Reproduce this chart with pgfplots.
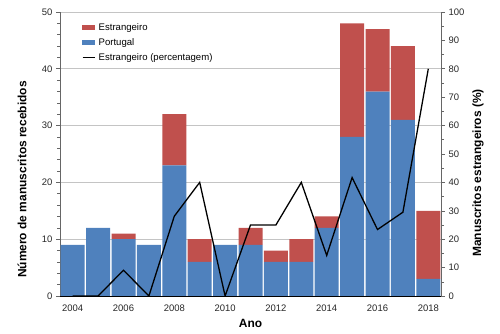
\documentclass[border=0pt]{standalone}
\usepackage{pgfplots}
\pgfplotsset{compat=1.18}
\usepackage{fontspec}
\setmainfont{Liberation Sans}
\definecolor{port}{HTML}{4F81BD}
\definecolor{estr}{HTML}{C0504D}
\definecolor{gridc}{HTML}{C4C4C4}
\begin{document}
\begin{tikzpicture}
\path[use as bounding box] (-60bp,-38bp) rectangle (440bp,296bp);
\begin{axis}[
  at={(0,0)}, anchor=south west, scale only axis,
  width=381bp, height=284bp,
  xmin=2003.5, xmax=2018.5, ymin=0, ymax=50,
  ybar stacked, bar width=24bp,
  axis y line*=left, axis x line*=bottom,
  x axis line style={black, line width=0.8pt},
  y axis line style={black!60, line width=0.8pt},
  xtick={2004,2006,...,2018},
  ytick={0,10,...,50}, minor y tick num=4,
  xtick style={draw=none},
  ytick style={black!60, line width=0.6pt},
  tick align=outside, major tick length=4bp, minor tick length=3bp,
  ymajorgrids, major grid style={gridc, line width=0.9pt},
  /pgf/number format/assume math mode=true,
  /pgf/number format/1000 sep={},
  tick label style={font=\fontsize{9.5}{11}\selectfont, black!85},
  xticklabel style={yshift=-1bp},
  xlabel={Ano}, ylabel={Número de manuscritos recebidos},
  label style={font=\fontsize{12}{14}\selectfont\bfseries},
  xlabel style={at={(axis description cs:0.5,-0.095)}, anchor=center},
  ylabel style={at={(axis description cs:-0.0997,0.41)}, anchor=center},
  legend style={at={(axis description cs:0.057,0.968)}, anchor=north west,
    draw=none, fill=none, font=\fontsize{9.6}{11}\selectfont,
    row sep=2.6bp, inner sep=0pt, legend cell align=left,
    /tikz/every odd column/.append style={column sep=1.5bp}},
]
\addlegendimage{legend image code/.code={\fill[estr] (0bp,-2bp) rectangle (12bp,2bp);}}
\addlegendentry{Estrangeiro}
\addlegendimage{legend image code/.code={\fill[port] (0bp,-2bp) rectangle (12bp,2bp);}}
\addlegendentry{Portugal}
\addlegendimage{legend image code/.code={\draw[black, line width=1.3pt] (0bp,0bp) -- (12bp,0bp);}}
\addlegendentry{Estrangeiro (percentagem)}
\addplot[fill=port, draw=none] coordinates {
 (2004,9) (2005,12) (2006,10) (2007,9) (2008,23) (2009,6) (2010,9) (2011,9)
 (2012,6) (2013,6) (2014,12) (2015,28) (2016,36) (2017,31) (2018,3)};
\addplot[fill=estr, draw=none] coordinates {
 (2004,0) (2005,0) (2006,1) (2007,0) (2008,9) (2009,4) (2010,0) (2011,3)
 (2012,2) (2013,4) (2014,2) (2015,20) (2016,11) (2017,13) (2018,12)};
\end{axis}
\begin{axis}[
  at={(0,0)}, anchor=south west, scale only axis,
  width=381bp, height=284bp,
  xmin=2003.5, xmax=2018.5, ymin=0, ymax=100,
  axis y line*=right, axis x line=none,
  y axis line style={black!60, line width=0.8pt},
  ytick={0,10,...,100}, minor y tick num=1,
  ytick style={black!60, line width=0.6pt},
  tick align=outside, major tick length=4bp, minor tick length=3bp,
  /pgf/number format/assume math mode=true,
  tick label style={font=\fontsize{9.5}{11}\selectfont, black!85},
  ylabel={Manuscritos estrangeiros (\%)},
  label style={font=\fontsize{12}{14}\selectfont\bfseries},
  ylabel style={at={(axis description cs:1.097,0.433)}, anchor=center, rotate=0},
]
\addplot[black, line width=1.3pt, mark=none] coordinates {
 (2004,0) (2005,0) (2006,9.09) (2007,0) (2008,28.1) (2009,40) (2010,0) (2011,25)
 (2012,25) (2013,40) (2014,14.3) (2015,41.7) (2016,23.4) (2017,29.5) (2018,80)};
\end{axis}
\end{tikzpicture}
\end{document}
